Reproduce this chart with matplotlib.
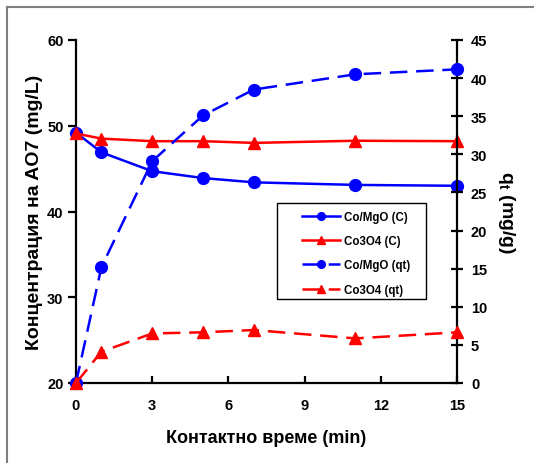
import matplotlib
matplotlib.use("Agg")
import matplotlib.pyplot as plt
from matplotlib.lines import Line2D
from matplotlib.patches import Rectangle

plt.rcParams['font.family'] = ['Liberation Sans', 'DejaVu Sans']
plt.rcParams['font.weight'] = 'bold'
plt.rcParams['mathtext.fontset'] = 'custom'
plt.rcParams['mathtext.rm'] = 'Liberation Sans:bold'
plt.rcParams['mathtext.it'] = 'Liberation Sans:bold'

# contact time (min)
time = [0, 1, 3, 5, 7, 11, 15]
# residual AO7 concentration (mg/L)
c_comgo = [49.2, 46.9, 44.7, 43.9, 43.4, 43.1, 43.0]
c_co3o4 = [49.1, 48.5, 48.2, 48.2, 48.0, 48.25, 48.2]
# adsorbed amount q_t (mg/g)
q_comgo = [0.0, 15.2, 29.1, 35.1, 38.5, 40.5, 41.15]
q_co3o4 = [0.0, 4.1, 6.5, 6.65, 6.95, 5.85, 6.65]

x_ticks = [0, 3, 6, 9, 12, 15]
left_ticks = [20, 30, 40, 50, 60]
right_ticks = [0, 5, 10, 15, 20, 25, 30, 35, 40, 45]

W, H = 534, 464
fig = plt.figure(figsize=(W / 100, H / 100), dpi=100)
ax = fig.add_axes([76 / W, 1 - 384 / H, (457 - 76) / W, (384 - 41) / H])
ax2 = ax.twinx()

# outer frame (left and top edges)
fig.add_artist(Line2D([7 / W, 7 / W], [0, 1 - 8 / H], transform=fig.transFigure,
                      color='#7f7f7f', lw=1.5))
fig.add_artist(Line2D([7 / W, 1], [1 - 8 / H, 1 - 8 / H], transform=fig.transFigure,
                      color='#7f7f7f', lw=1.5))

blue = '#0000ff'
red = '#ff0000'
lw = 1.8
ms = 8.5
dash = (7, 3.5)

l1, = ax.plot(time, c_comgo, color=blue, lw=lw, marker='o', ms=ms,
              label='Co/MgO (C)', clip_on=False, zorder=3)
l2, = ax.plot(time, c_co3o4, color=red, lw=lw, marker='^', ms=ms,
              label='Co3O4 (C)', clip_on=False, zorder=3)
l3, = ax2.plot(time, q_comgo, color=blue, lw=lw, marker='o', ms=ms,
               dashes=dash, label='Co/MgO (qt)', clip_on=False, zorder=3)
l4, = ax2.plot(time, q_co3o4, color=red, lw=lw, marker='^', ms=ms,
               dashes=dash, label='Co3O4 (qt)', clip_on=False, zorder=3)

ax.set_xlim(0, 15)
ax.set_ylim(20, 60)
ax2.set_ylim(0, 45)
ax.set_xticks(x_ticks)
ax.set_yticks(left_ticks)
ax2.set_yticks(right_ticks)

for a in (ax, ax2):
    a.spines['top'].set_visible(False)
    for s in a.spines.values():
        s.set_linewidth(1.6)
ax.spines['right'].set_visible(False)
ax2.spines['left'].set_visible(False)
ax2.spines['bottom'].set_visible(False)

ax.tick_params(axis='y', direction='out', length=6, width=1.6, labelsize=10.5, pad=3)
ax.tick_params(axis='x', direction='in', length=5, width=1.6, labelsize=10.5, pad=11)
ax2.tick_params(axis='y', direction='inout', length=8, width=1.6, labelsize=10.5, pad=6)
for lab in ax.get_xticklabels() + ax.get_yticklabels() + ax2.get_yticklabels():
    lab.set_fontweight('bold')

ax.set_xlabel('Контактно време (min)', fontsize=13, fontweight='bold', labelpad=12)
ax.set_ylabel('Концентрация на AO7 (mg/L)', fontsize=14, fontweight='bold', labelpad=3)
ax2.set_ylabel(r'q$_{\rm t}$ (mg/g)', fontsize=14, fontweight='bold',
               rotation=270, labelpad=21)

# legend box
ax2.add_patch(Rectangle((277 / W, 1 - 300 / H), (426 - 277) / W, (300 - 204) / H,
                        transform=fig.transFigure, facecolor='white',
                        edgecolor='black', lw=1.0, zorder=4, clip_on=False))
# legend entries, placed inside the box
leg = ax2.legend(handles=[l1, l2, l3, l4], loc='upper left',
                 bbox_to_anchor=(297 / W, 1 - 207 / H),
                 bbox_transform=fig.transFigure,
                 frameon=False, prop={'size': 8.3, 'weight': 'bold'},
                 markerscale=0.65, handlelength=3.3, borderpad=0.4,
                 labelspacing=1.07, handletextpad=0.4, borderaxespad=0)
leg.set_zorder(5)

fig.savefig('out.png', dpi=100)
